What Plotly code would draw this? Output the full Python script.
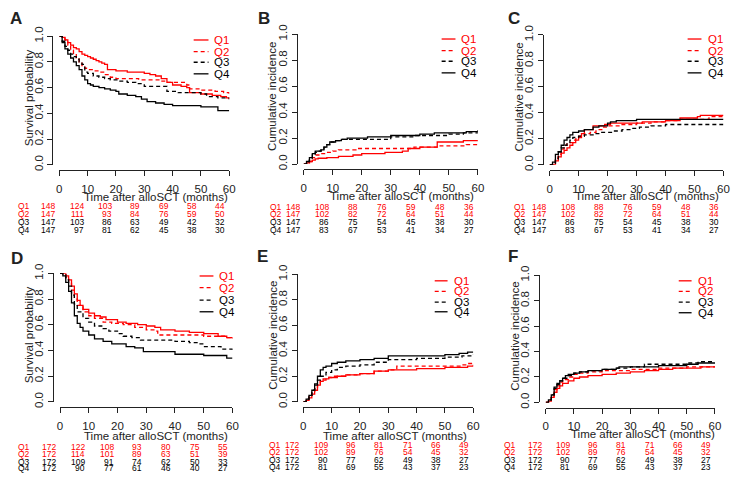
import plotly.graph_objects as go

W, H = 745, 488
RED = "#ff0000"
BLK = "#000000"
FONT = "Liberation Sans, Arial, sans-serif"

groups = ["Q1", "Q2", "Q3", "Q4"]
x_ticks = [0, 10, 20, 30, 40, 50, 60]
y_ticks = [0.0, 0.2, 0.4, 0.6, 0.8, 1.0]
x_title = "Time after alloSCT (months)"
y_title_os = "Survival probability"
y_title_ci = "Cumulative incidence"

# ---- panel A : overall survival (training)
a_q1_t = [0, 1, 2, 3, 4, 5, 6, 7, 8, 9, 10, 11, 12, 13, 14, 15, 16, 17, 20, 24, 27, 30, 32, 34, 36, 38, 40, 43, 45, 46, 50, 54, 57, 59, 60]
a_q1_s = [1.0, .99, .97, .95, .93, .91, .90, .88, .86, .85, .84, .83, .82, .81, .80, .79, .78, .74, .73, .72, .72, .71, .70, .69, .67, .64, .62, .61, .60, .56, .55, .54, .53, .52, .51]
a_q2_t = [0, 1, 2, 3, 4, 5, 6, 7, 8, 9, 10, 12, 14, 16, 18, 20, 24, 28, 32, 36, 38, 42, 45, 46, 50, 55, 58, 60]
a_q2_s = [1.0, .99, .97, .93, .89, .86, .83, .80, .77, .75, .74, .73, .72, .70, .68, .67, .67, .66, .66, .65, .64, .64, .62, .59, .58, .57, .56, .55]
a_q3_t = [0, 1, 2, 3, 4, 5, 6, 7, 8, 9, 10, 12, 14, 16, 18, 21, 24, 27, 30, 34, 37, 38, 42, 46, 50, 52, 56, 60]
a_q3_s = [1.0, .96, .92, .89, .86, .84, .82, .80, .78, .72, .71, .69, .68, .67, .66, .65, .64, .63, .61, .61, .61, .57, .56, .56, .55, .53, .52, .51]
a_q4_t = [0, 1, 2, 3, 4, 5, 6, 7, 8, 9, 10, 11, 12, 14, 16, 18, 20, 21, 24, 27, 29, 31, 34, 37, 40, 45, 50, 55, 56, 60]
a_q4_s = [1.0, .95, .90, .86, .83, .80, .77, .74, .69, .66, .63, .62, .61, .60, .59, .58, .57, .55, .54, .53, .51, .49, .48, .47, .46, .46, .45, .45, .42, .42]

# ---- panel B : cumulative incidence (training)
b_q1_t = [0, 1, 2, 3, 4, 5, 8, 10, 12, 15, 17, 20, 24, 28, 31, 34, 36, 40, 43, 46, 50, 55, 60]
b_q1_s = [0, .01, .02, .03, .04, .045, .05, .05, .06, .06, .07, .08, .08, .09, .09, .10, .12, .13, .13, .17, .17, .18, .18]
b_q2_t = [0, 1, 2, 3, 4, 6, 8, 10, 12, 14, 18, 25, 30, 35, 38, 42, 47, 52, 56, 60]
b_q2_s = [0, .01, .02, .05, .07, .08, .09, .10, .11, .11, .12, .12, .12, .12, .13, .13, .14, .14, .15, .15]
b_q3_t = [0, 1, 2, 3, 4, 5, 6, 7, 8, 9, 11, 13, 16, 20, 25, 30, 33, 38, 45, 50, 55, 60]
b_q3_s = [0, .02, .04, .07, .09, .10, .11, .13, .15, .17, .18, .19, .19, .19, .19, .21, .21, .22, .22, .23, .24, .24]
b_q4_t = [0, 1, 2, 3, 4, 5, 6, 7, 8, 9, 11, 13, 15, 18, 22, 26, 30, 35, 40, 45, 50, 56, 60]
b_q4_s = [0, .02, .05, .08, .10, .10, .11, .13, .15, .17, .18, .19, .20, .20, .21, .21, .22, .22, .23, .24, .24, .25, .26]

# ---- panel C : cumulative incidence (training)
c_q1_t = [0, 1, 2, 3, 4, 5, 6, 7, 8, 9, 10, 11, 12, 15, 19, 21, 26, 30, 32, 36, 40, 45, 51, 52, 60]
c_q1_s = [0, 0, .03, .06, .09, .11, .13, .15, .17, .19, .21, .24, .27, .30, .31, .32, .32, .32, .33, .33, .34, .36, .37, .38, .38]
c_q2_t = [0, 1, 2, 3, 4, 5, 6, 8, 9, 10, 12, 14, 16, 18, 20, 25, 30, 35, 40, 45, 50, 55, 60]
c_q2_s = [0, .01, .05, .08, .12, .15, .17, .19, .20, .22, .24, .25, .27, .29, .30, .31, .32, .33, .34, .35, .35, .37, .37]
c_q3_t = [0, 1, 2, 3, 4, 5, 6, 7, 8, 10, 12, 15, 18, 22, 25, 28, 31, 35, 40, 60]
c_q3_s = [0, .01, .04, .10, .13, .15, .17, .19, .21, .22, .23, .24, .25, .26, .27, .28, .29, .30, .31, .31]
c_q4_t = [0, 1, 2, 3, 4, 5, 6, 7, 8, 10, 12, 15, 17, 20, 21, 23, 30, 40, 50, 60]
c_q4_s = [0, .02, .08, .10, .15, .19, .21, .23, .25, .26, .27, .29, .30, .32, .33, .34, .35, .35, .35, .35]

# ---- panel D : overall survival (validation)
d_q1_t = [0, 1, 2, 3, 4, 5, 6, 7, 8, 10, 12, 14, 16, 19, 20, 23, 27, 30, 33, 35, 40, 45, 50, 55, 58, 60]
d_q1_s = [1.0, 1.0, .98, .95, .90, .84, .79, .75, .72, .69, .67, .66, .64, .64, .62, .61, .60, .59, .58, .56, .55, .54, .53, .51, .50, .49]
d_q2_t = [0, 1, 2, 3, 4, 5, 6, 8, 10, 12, 15, 18, 22, 26, 30, 33, 34, 40, 45, 50, 55, 58, 60]
d_q2_s = [1.0, .99, .97, .93, .87, .80, .75, .70, .67, .65, .62, .61, .60, .58, .56, .55, .52, .52, .52, .51, .51, .50, .50]
d_q3_t = [0, 1, 2, 3, 4, 5, 6, 8, 10, 12, 15, 17, 20, 22, 25, 28, 35, 40, 45, 48, 50, 55, 56, 60]
d_q3_s = [1.0, .99, .95, .90, .83, .76, .70, .65, .62, .59, .57, .55, .53, .51, .50, .48, .48, .47, .46, .45, .43, .43, .41, .40]
d_q4_t = [0, 1, 2, 3, 4, 5, 6, 7, 8, 10, 12, 15, 18, 20, 23, 26, 29, 35, 40, 45, 50, 56, 58, 60]
d_q4_s = [1.0, .98, .93, .86, .77, .67, .61, .58, .55, .52, .49, .47, .45, .45, .43, .42, .39, .39, .37, .37, .36, .36, .34, .34]

# ---- panel E : cumulative incidence (validation)
e_q1_t = [0, 1, 2, 3, 4, 5, 6, 7, 9, 12, 15, 20, 25, 30, 35, 40, 45, 50, 55, 58, 60]
e_q1_s = [0, .01, .03, .06, .09, .13, .16, .18, .19, .20, .21, .22, .24, .25, .25, .26, .26, .27, .27, .28, .29]
e_q2_t = [0, 1, 2, 3, 4, 5, 6, 8, 10, 15, 20, 25, 30, 33, 40, 50, 56, 58, 60]
e_q2_s = [0, .02, .04, .07, .10, .14, .17, .19, .20, .21, .22, .24, .25, .28, .28, .28, .29, .30, .30]
e_q3_t = [0, 1, 2, 3, 4, 5, 6, 8, 10, 12, 15, 20, 25, 30, 40, 50, 56, 60]
e_q3_s = [0, .02, .05, .09, .13, .17, .20, .23, .25, .27, .28, .29, .31, .33, .34, .35, .36, .37]
e_q4_t = [0, 1, 2, 3, 4, 5, 6, 7, 8, 10, 12, 15, 20, 25, 30, 40, 50, 55, 58, 60]
e_q4_s = [0, .02, .05, .09, .14, .20, .25, .27, .28, .30, .31, .32, .33, .34, .36, .36, .37, .38, .39, .39]

# ---- panel F : cumulative incidence (validation)
f_q1_t = [0, 1, 2, 3, 4, 5, 6, 8, 10, 12, 15, 20, 25, 30, 35, 40, 45, 50, 55, 60]
f_q1_s = [0, .01, .04, .08, .11, .13, .15, .17, .19, .20, .21, .22, .23, .24, .25, .26, .27, .27, .28, .28]
f_q2_t = [0, 1, 2, 3, 4, 5, 6, 8, 10, 12, 15, 20, 25, 30, 40, 50, 60]
f_q2_s = [0, .01, .05, .10, .13, .16, .18, .20, .22, .23, .24, .25, .25, .26, .27, .28, .28]
f_q3_t = [0, 1, 2, 3, 4, 5, 6, 8, 10, 12, 15, 20, 25, 30, 35, 40, 50, 54, 60]
f_q3_s = [0, .02, .06, .11, .14, .17, .19, .21, .23, .24, .25, .26, .27, .28, .30, .30, .31, .32, .32]
f_q4_t = [0, 1, 2, 3, 4, 5, 6, 7, 8, 10, 12, 15, 20, 25, 26, 30, 40, 50, 54, 60]
f_q4_s = [0, .02, .06, .12, .15, .17, .19, .21, .22, .23, .24, .25, .26, .27, .28, .28, .29, .30, .31, .31]

# numbers at risk (columns at 0,10,...,60 months)
risk_a = [[148, 124, 103, 89, 69, 58, 44], [147, 111, 93, 84, 76, 59, 50],
          [147, 103, 86, 63, 49, 42, 32], [147, 97, 81, 62, 45, 38, 30]]
risk_bc = [[148, 108, 88, 76, 59, 48, 36], [147, 102, 82, 72, 64, 51, 44],
           [147, 86, 75, 54, 45, 38, 30], [147, 83, 67, 53, 41, 34, 27]]
risk_d = [[172, 122, 108, 93, 80, 75, 55], [172, 114, 101, 89, 63, 51, 39],
          [172, 109, 91, 74, 62, 50, 33], [172, 90, 77, 61, 46, 40, 27]]
risk_ef = [[172, 109, 96, 81, 71, 66, 49], [172, 102, 89, 76, 54, 45, 32],
           [172, 90, 77, 62, 49, 38, 27], [172, 81, 69, 55, 43, 37, 23]]

curves = {
    "A": [(a_q1_t, a_q1_s), (a_q2_t, a_q2_s), (a_q3_t, a_q3_s), (a_q4_t, a_q4_s)],
    "B": [(b_q1_t, b_q1_s), (b_q2_t, b_q2_s), (b_q3_t, b_q3_s), (b_q4_t, b_q4_s)],
    "C": [(c_q1_t, c_q1_s), (c_q2_t, c_q2_s), (c_q3_t, c_q3_s), (c_q4_t, c_q4_s)],
    "D": [(d_q1_t, d_q1_s), (d_q2_t, d_q2_s), (d_q3_t, d_q3_s), (d_q4_t, d_q4_s)],
    "E": [(e_q1_t, e_q1_s), (e_q2_t, e_q2_s), (e_q3_t, e_q3_s), (e_q4_t, e_q4_s)],
    "F": [(f_q1_t, f_q1_s), (f_q2_t, f_q2_s), (f_q3_t, f_q3_s), (f_q4_t, f_q4_s)],
}
risks = {"A": risk_a, "B": risk_bc, "C": risk_bc, "D": risk_d, "E": risk_ef, "F": risk_ef}
ytitles = {"A": y_title_os, "B": y_title_ci, "C": y_title_ci,
           "D": y_title_os, "E": y_title_ci, "F": y_title_ci}

# layout geometry in pixels
geo = {
    "A": dict(x0=57, x1=229, y1=27, y0=160, yl=50, xl=165.3, ytx=26, xtc=155, xty=193,
              rr=[203, 211, 219, 227], rlx=13, let=(13, 9), lg=(193, 208, 212), lr=[31, 43, 54, 66]),
    "B": dict(x0=304.3, x1=480.7, y1=25, y0=159.3, yl=297.2, xl=164.7, ytx=273, xtc=403.5, xty=192,
              rr=[204, 211, 219, 227], rlx=268, let=(264, 9), lg=(444, 458, 462), lr=[30, 42, 53, 65]),
    "C": dict(x0=553.3, x1=729.3, y1=25.7, y0=160, yl=546.3, xl=165.4, ytx=522, xtc=651.5, xty=192,
              rr=[204, 211, 219, 227], rlx=515, let=(517, 9), lg=(693, 707, 712), lr=[30, 42, 53, 65]),
    "D": dict(x0=57.7, x1=232.3, y1=272.3, y0=405, yl=50.7, xl=410.3, ytx=26, xtc=155, xty=440,
              rr=[452, 459, 467, 474], rlx=13, let=(14, 257), lg=(199, 213, 217), lr=[275, 287, 300, 312]),
    "E": dict(x0=304, x1=476, y1=273.3, y0=405, yl=297.1, xl=410.3, ytx=273, xtc=396.5, xty=440,
              rr=[450, 457, 465, 472], rlx=267, let=(263, 255), lg=(437, 450, 454), lr=[280, 291, 302, 312]),
    "F": dict(x0=549.3, x1=720.7, y1=274.3, y0=405.7, yl=542.4, xl=411, ytx=518, xtc=647.6, xty=438,
              rr=[450, 457, 465, 472], rlx=505, let=(516, 255), lg=(684, 697, 701), lr=[280, 291, 302, 313]),
}

colors = [RED, RED, BLK, BLK]
dashes = ["solid", "4px,3px", "4px,3px", "solid"]


def fx(p):
    return p / W


def fy(p):
    return 1 - p / H


def label(text, x, y, size, color, xanchor="center", xref="paper", angle=0, xshift=0):
    return dict(text=text, x=x, y=y, xref=xref, yref="paper", xanchor=xanchor, yanchor="middle",
                textangle=angle, xshift=xshift, showarrow=False,
                font=dict(family=FONT, size=size, color=color))


fig = go.Figure()
layout = {}
annotations = []
shapes = []

for i, key in enumerate(["A", "B", "C", "D", "E", "F"]):
    g = geo[key]
    n = "" if i == 0 else str(i + 1)
    xa, ya = "x" + n, "y" + n

    for (t, s), col, dash in zip(curves[key], colors, dashes):
        fig.add_trace(go.Scatter(x=t, y=s, mode="lines", xaxis=xa, yaxis=ya,
                                 line=dict(shape="hv", color=col, width=1.3, dash=dash),
                                 hoverinfo="skip"))

    common = dict(showgrid=False, zeroline=False, showline=True, linecolor="#222", linewidth=1,
                  ticks="outside", ticklen=5, tickwidth=1, tickcolor="#222",
                  tickfont=dict(family=FONT, size=11.5, color="#222"), anchor="free")
    layout["xaxis" + n] = dict(common, domain=[fx(g["x0"]), fx(g["x1"])], range=[0, 60],
                               position=fy(g["xl"]), tickvals=x_ticks, ticklabelstandoff=3)
    layout["yaxis" + n] = dict(common, domain=[fy(g["y0"]), fy(g["y1"])], range=[0, 1],
                               position=fx(g["yl"]), tickvals=y_ticks,
                               ticktext=["%.1f" % v for v in y_ticks], tickangle=-90)

    annotations.append(label("<b>%s</b>" % key, fx(g["let"][0]), fy(g["let"][1]), 17, "#222"))
    annotations.append(label(x_title, fx(g["xtc"]), fy(g["xty"]), 11.5, "#222"))
    annotations.append(label(ytitles[key], fx(g["ytx"]), fy((g["y0"] + g["y1"]) / 2 - 3),
                             11.5, "#222", angle=-90))

    # legend
    lx0, lx1, ltx = g["lg"]
    for gname, col, dash, ry in zip(groups, colors, dashes, g["lr"]):
        shapes.append(dict(type="line", xref="paper", yref="paper", x0=fx(lx0), x1=fx(lx1),
                           y0=fy(ry), y1=fy(ry), line=dict(color=col, width=1.3, dash=dash)))
        annotations.append(label(gname, fx(ltx), fy(ry), 11.5, col, xanchor="left"))

    # numbers at risk
    for gname, col, row, ry in zip(groups, colors, risks[key], g["rr"]):
        annotations.append(label(gname, fx(g["rlx"]), fy(ry), 8.5, col, xanchor="left"))
        for tv, nv in zip(x_ticks, row):
            annotations.append(label(str(nv), tv, fy(ry), 8.5, col, xanchor="right",
                                     xref=xa, xshift=-2))

fig.update_layout(width=W, height=H, margin=dict(l=0, r=0, t=0, b=0),
                  paper_bgcolor="white", plot_bgcolor="white", showlegend=False,
                  annotations=annotations, shapes=shapes, **layout)

fig.write_html("out.html", config={"displayModeBar": False},
               post_script="document.body.style.margin='0';")
